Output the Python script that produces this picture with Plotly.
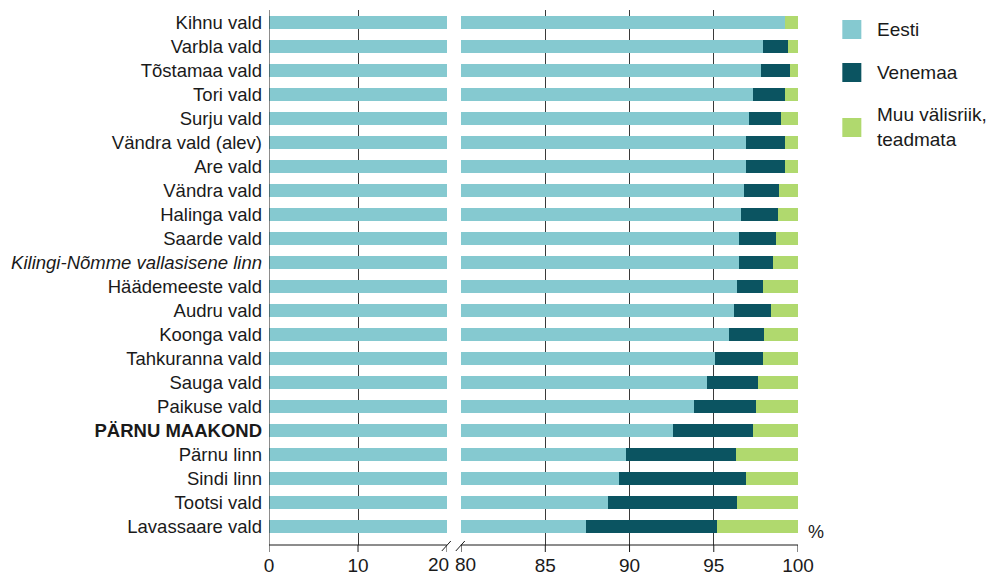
import plotly.graph_objects as go

categories = [
    "Kihnu vald", "Varbla vald", "Tõstamaa vald", "Tori vald", "Surju vald",
    "Vändra vald (alev)", "Are vald", "Vändra vald", "Halinga vald", "Saarde vald",
    "<i>Kilingi-Nõmme vallasisene linn</i>", "Häädemeeste vald", "Audru vald",
    "Koonga vald", "Tahkuranna vald", "Sauga vald", "Paikuse vald",
    "<b>PÄRNU MAAKOND</b>", "Pärnu linn", "Sindi linn", "Tootsi vald", "Lavassaare vald",
]
eesti = [99.2, 97.9, 97.8, 97.3, 97.1, 96.9, 96.9, 96.8, 96.6, 96.5, 96.5, 96.4,
         96.2, 95.9, 95.1, 94.6, 93.8, 92.6, 89.8, 89.4, 88.7, 87.4]
venemaa = [0.0, 1.5, 1.7, 1.9, 1.9, 2.3, 2.3, 2.1, 2.2, 2.2, 2.0, 1.5,
           2.2, 2.1, 2.8, 3.0, 3.7, 4.7, 6.5, 7.5, 7.7, 7.8]
muu = [round(100 - e - v, 1) for e, v in zip(eesti, venemaa)]

series_names = ["Eesti", "Venemaa", "Muu välisriik,<br>teadmata"]
colors = ["#85C9D0", "#0B5461", "#B0D96E"]

left_ticks = [0, 10, 20]
right_ticks = [80, 85, 90, 95, 100]

FONT = "Liberation Sans, Arial, sans-serif"
TXT = "#1a1a1a"
fig = go.Figure()

for xa in ["x", "x2"]:
    for vals, name, col in zip([eesti, venemaa, muu], series_names, colors):
        fig.add_trace(go.Bar(
            y=categories, x=vals, orientation="h", name=name,
            marker=dict(color=col, line=dict(width=0)),
            xaxis=xa, yaxis="y", showlegend=False, hoverinfo="x+y",
        ))

L_END = 0.3366
R_START = 0.3631
PL, PR, PT, PB = 269, 797.7, 10, 545
PW, PH = PR - PL, PB - PT

def px(x):
    return (x - PL) / PW

def py(y):
    return (PB - y) / PH

TICKSZ = 19

fig.update_layout(
    barmode="stack",
    bargap=0.46,
    width=989, height=576,
    margin=dict(l=PL, r=989 - PR, t=PT, b=576 - PB, autoexpand=False),
    paper_bgcolor="white", plot_bgcolor="white",
    showlegend=False,
    hovermode=False,
    font=dict(family=FONT, size=18.5, color=TXT),
    xaxis=dict(domain=[0, L_END], range=[0, 20], tickvals=left_ticks,
               ticktext=["0", "10", ""],
               showgrid=True, gridcolor="#3a3a3a", gridwidth=1,
               showline=False, zeroline=False,
               ticks="", tickfont=dict(size=TICKSZ), ticklabelstandoff=7),
    xaxis2=dict(domain=[R_START, 1], range=[80, 100], tickvals=right_ticks,
                ticktext=["", "85", "90", "95", "100"],
                showgrid=True, gridcolor="#3a3a3a", gridwidth=1,
                showline=False, zeroline=False,
                ticks="", tickfont=dict(size=TICKSZ), ticklabelstandoff=7),
    yaxis=dict(type="category", range=[21.75, -0.5], showgrid=False,
               showline=False, zeroline=False, ticks="", ticklabelstandoff=6,
               tickfont=dict(size=18.5)),
)

shapes = []
annotations = []
for x0, x1 in [(PL, 446.7), (460.7, PR)]:
    shapes.append(dict(type="line", xref="paper", yref="paper",
                       x0=px(x0), x1=px(x1), y0=0, y1=0,
                       line=dict(color=TXT, width=1)))
for t in left_ticks:
    shapes.append(dict(type="line", xref="x", yref="paper", x0=t, x1=t,
                       y0=0, y1=-7 / PH, line=dict(color=TXT, width=1)))
for t in right_ticks:
    shapes.append(dict(type="line", xref="x2", yref="paper", x0=t, x1=t,
                       y0=0, y1=-7 / PH, line=dict(color=TXT, width=1)))
for xc in [446.7, 460.7]:
    shapes.append(dict(type="line", xref="paper", yref="paper",
                       x0=px(xc - 5), x1=px(xc + 4),
                       y0=-6 / PH, y1=4 / PH,
                       line=dict(color=TXT, width=1)))
shapes.append(dict(type="line", xref="x", yref="paper", x0=0, x1=0, y0=0, y1=1,
                   line=dict(color=TXT, width=1)))

annotations.append(dict(xref="paper", yref="paper", x=px(451), y=py(552),
                        text="20", showarrow=False, xanchor="right", yanchor="top",
                        font=dict(size=TICKSZ, family=FONT, color=TXT)))
annotations.append(dict(xref="paper", yref="paper", x=px(453), y=py(552),
                        text="80", showarrow=False, xanchor="left", yanchor="top",
                        font=dict(size=TICKSZ, family=FONT, color=TXT)))

legend_rows = [(29.5, "Eesti"), (72.5, "Venemaa"), (127.5, "Muu välisriik,<br>teadmata")]
for (yc, label), col in zip(legend_rows, colors):
    shapes.append(dict(type="rect", xref="paper", yref="paper",
                       x0=px(842), x1=px(861),
                       y0=py(yc + 9.5), y1=py(yc - 9.5),
                       line=dict(width=0), fillcolor=col))
for (yc, label) in legend_rows:
    annotations.append(dict(xref="paper", yref="paper",
                            x=px(875), y=py(yc),
                            text=label, showarrow=False, xanchor="left",
                            yanchor="middle", align="left",
                            font=dict(size=19, family=FONT, color=TXT)))
annotations.append(dict(xref="paper", yref="paper", x=px(806),
                        y=py(532), text="%", showarrow=False,
                        xanchor="left", yanchor="middle",
                        font=dict(size=18, family=FONT, color=TXT)))

fig.update_layout(shapes=shapes, annotations=annotations)
fig.write_html("out.html",
               config={"displayModeBar": False, "staticPlot": True},
               post_script="document.body.style.margin='0';document.body.style.overflow='hidden';")
